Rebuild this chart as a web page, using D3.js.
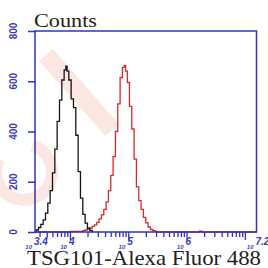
<!DOCTYPE html>
<html>
<head>
<meta charset="utf-8">
<script src="https://cdn.jsdelivr.net/npm/d3@7"></script>
<style>
  body { margin: 0; background: #fff; }
  svg { display: block; }
</style>
</head>
<body>
<svg id="chart" width="268" height="268"></svg>
<script>
// y axis
var countTicks = [0, 200, 400, 600, 800];
// x axis labels, log10 of the intensity
var decadeTicks = [3.4, 4, 5, 6, 7.2];
var decadeLabels = ['3.4', '4', '5', '6', '7.2'];

// control (black) histogram, log10 intensity and counts
var controlLog = [3.40, 3.44, 3.48, 3.52, 3.56, 3.60, 3.64, 3.68, 3.72, 3.76, 3.80, 3.84,
  3.88, 3.92, 3.94, 3.96, 4.00, 4.04, 4.08, 4.12, 4.16, 4.20, 4.24, 4.28, 4.32, 4.36, 4.40];
var controlCounts = [0, 8, 18, 30, 48, 75, 115, 165, 235, 330, 440, 525,
  605, 645, 660, 640, 605, 530, 495, 385, 240, 135, 70, 35, 15, 6, 2];

// TSG101 (red) histogram
var tsgLog = [3.40, 3.80, 4.20, 4.24, 4.28, 4.32, 4.36, 4.40, 4.44, 4.48, 4.52, 4.56, 4.60,
  4.64, 4.68, 4.72, 4.76, 4.80, 4.84, 4.88, 4.92, 4.94, 4.97, 5.00, 5.04, 5.08, 5.12,
  5.16, 5.20, 5.24, 5.28, 5.32, 5.36, 5.40, 5.44, 5.48, 5.52, 6.20, 6.24, 6.28, 7.20];
var tsgCounts = [0, 0, 2, 5, 8, 12, 16, 22, 28, 38, 52, 68, 90,
  120, 165, 225, 300, 400, 510, 615, 655, 662, 640, 595, 500, 410, 290,
  180, 125, 90, 58, 36, 20, 10, 5, 2, 0, 0, 3, 0, 0];

var axisColor = '#3232c0';
var labelColor = '#3b3bc4';
var plotLeft = 35, plotRight = 256.5, plotTop = 31, plotBottom = 232;

var svg = d3.select('#chart');

var x = d3.scaleLog()
  .domain([Math.pow(10, 3.4), Math.pow(10, 7.2)])
  .range([plotLeft, plotRight]);

var y = d3.scaleLinear()
  .domain([0, 800])
  .range([plotBottom, plotTop]);

// faint watermark behind the plot
var mark = svg.append('g').attr('fill', 'none').attr('stroke', '#fce6e2');
mark.append('line')
  .attr('x1', 46).attr('y1', 55).attr('x2', 112).attr('y2', 130)
  .attr('stroke-width', 18);
mark.append('path')
  .attr('d', d3.arc()({ innerRadius: 22, outerRadius: 34, startAngle: 0.3, endAngle: 5.2 }))
  .attr('transform', 'translate(24,172)')
  .attr('fill', '#fce6e2').attr('stroke', 'none');

function histLine(logs, counts) {
  var pts = logs.map(function (v, i) { return [Math.pow(10, v), counts[i]]; });
  return d3.line()
    .x(function (d) { return x(d[0]); })
    .y(function (d) { return y(d[1]); })
    .curve(d3.curveStep)(pts);
}

svg.append('path')
  .attr('d', histLine(tsgLog, tsgCounts))
  .attr('fill', 'none')
  .attr('stroke', '#d52b2b')
  .attr('stroke-width', 1.3);

svg.append('path')
  .attr('d', histLine(controlLog, controlCounts))
  .attr('fill', 'none')
  .attr('stroke', '#151515')
  .attr('stroke-width', 1.3);

// box
svg.append('rect')
  .attr('x', plotLeft).attr('y', plotTop)
  .attr('width', plotRight - plotLeft).attr('height', plotBottom - plotTop)
  .attr('fill', 'none')
  .attr('stroke', axisColor)
  .attr('stroke-width', 1.5);

// y axis
var yAxis = svg.append('g')
  .attr('transform', 'translate(' + plotLeft + ',0)')
  .call(d3.axisLeft(y).tickValues(countTicks).tickSize(7).tickFormat(''));
yAxis.select('.domain').remove();
yAxis.selectAll('line').attr('stroke', axisColor).attr('stroke-width', 1.5);

svg.selectAll('.ylab')
  .data(countTicks)
  .enter()
  .append('text')
  .attr('class', 'ylab')
  .attr('transform', function (d) { return 'translate(13.5,' + y(d) + ') rotate(-90)'; })
  .attr('text-anchor', 'middle')
  .attr('dy', '0.36em')
  .attr('font-family', 'Liberation Sans')
  .attr('font-size', 10)
  .attr('font-weight', 'bold')
  .attr('fill', labelColor)
  .text(function (d) { return d; });

// x axis, log ticks
var xAxis = svg.append('g')
  .attr('transform', 'translate(0,' + plotBottom + ')')
  .call(d3.axisBottom(x).ticks(40).tickSize(5).tickFormat(''));
xAxis.select('.domain').remove();
xAxis.selectAll('line')
  .attr('stroke', axisColor)
  .attr('stroke-width', 1.3)
  .attr('y2', function (d) {
    var e = Math.log10(d);
    return Math.abs(e - Math.round(e)) < 1e-6 ? 8 : 5;
  });

svg.selectAll('.xbase')
  .data(decadeTicks)
  .enter()
  .append('text')
  .attr('class', 'xbase')
  .attr('x', function (d) { return x(Math.pow(10, d)) - 3; })
  .attr('y', 249)
  .attr('text-anchor', 'end')
  .attr('font-family', 'Liberation Sans')
  .attr('font-style', 'italic')
  .attr('font-weight', 'bold')
  .attr('font-size', 6)
  .attr('fill', labelColor)
  .text('10');

svg.selectAll('.xexp')
  .data(decadeTicks)
  .enter()
  .append('text')
  .attr('class', 'xexp')
  .attr('x', function (d) { return x(Math.pow(10, d)) - 1; })
  .attr('y', 244.5)
  .attr('font-family', 'Liberation Sans')
  .attr('font-style', 'italic')
  .attr('font-weight', 'bold')
  .attr('font-size', 10)
  .attr('fill', labelColor)
  .text(function (d, i) { return decadeLabels[i]; });

// titles
svg.append('text')
  .attr('x', 34).attr('y', 27)
  .attr('font-family', 'Liberation Serif')
  .attr('font-size', 19)
  .attr('textLength', 63)
  .attr('lengthAdjust', 'spacingAndGlyphs')
  .attr('fill', '#222')
  .text('Counts');

svg.append('text')
  .attr('x', 27).attr('y', 265)
  .attr('font-family', 'Liberation Serif')
  .attr('font-size', 21)
  .attr('textLength', 234)
  .attr('lengthAdjust', 'spacingAndGlyphs')
  .attr('fill', '#222')
  .text('TSG101-Alexa Fluor 488');
</script>
</body>
</html>
